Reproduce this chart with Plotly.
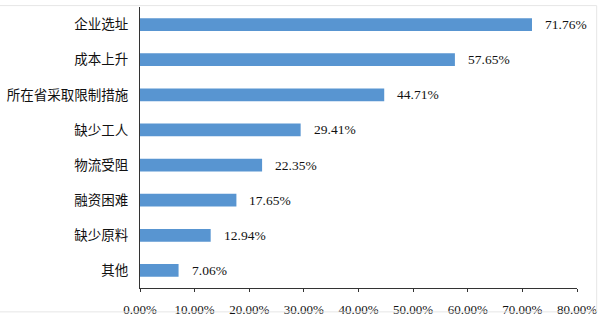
import plotly.graph_objects as go

# Reasons reported, with share of respondents (%)
categories = ["企业选址", "成本上升", "所在省采取限制措施", "缺少工人",
              "物流受阻", "融资困难", "缺少原料", "其他"]
values = [71.76, 57.65, 44.71, 29.41, 22.35, 17.65, 12.94, 7.06]
tick_values = [0, 10, 20, 30, 40, 50, 60, 70, 80]
tick_labels = [f"{v:.2f}%" for v in tick_values]

num_font = "Liberation Serif, Times New Roman, serif"
cjk_font = "Noto Sans CJK SC, sans-serif"

fig = go.Figure()
fig.add_trace(go.Bar(
    x=values,
    y=categories,
    orientation="h",
    marker=dict(color="#5895D1", line=dict(width=0)),
    hoverinfo="x+y",
))

# value labels placed just past the end of each bar
for cat, val in zip(categories, values):
    fig.add_annotation(
        x=val, y=cat, text=f"{val:.2f}%",
        xanchor="left", yanchor="middle", xshift=11, showarrow=False,
        font=dict(family=num_font, size=13.5, color="#111111"),
    )

# thin frame around the chart
fig.add_shape(type="rect", xref="paper", yref="paper",
              x0=-0.33, x1=1.045, y0=-0.085, y1=1.005,
              line=dict(color="#e6e6e6", width=1))

fig.update_layout(
    width=605, height=324,
    margin=dict(l=139, r=28, t=7, b=34),
    paper_bgcolor="white", plot_bgcolor="white",
    bargap=0.64,
    showlegend=False,
    xaxis=dict(
        range=[0, 80], tickvals=tick_values, ticktext=tick_labels,
        showgrid=False, zeroline=False,
        showline=True, linecolor="#333333", linewidth=1,
        ticks="outside", ticklen=3, tickcolor="#333333",
        ticklabelstandoff=6,
        tickfont=dict(family=num_font, size=13, color="#111111"),
    ),
    yaxis=dict(
        categoryorder="array", categoryarray=categories[::-1],
        showgrid=False, zeroline=False,
        showline=True, linecolor="#333333", linewidth=1,
        ticks="", ticklabelstandoff=8,
        tickfont=dict(family=cjk_font, size=13.5, color="#111111"),
    ),
)

fig.write_html("out.html")
